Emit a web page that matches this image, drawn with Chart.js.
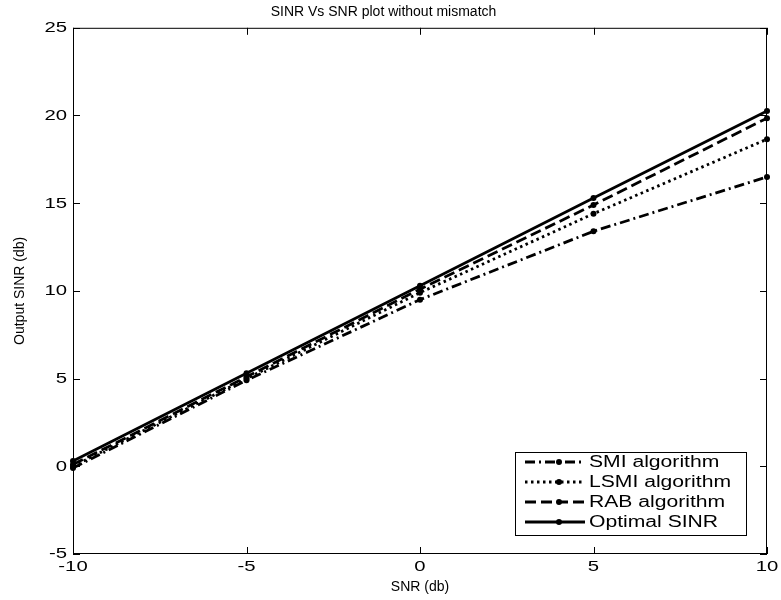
<!DOCTYPE html>
<html>
<head>
<meta charset="utf-8">
<script src="https://cdn.jsdelivr.net/npm/chart.js@4"></script>
<style>
  html, body { margin: 0; padding: 0; background: #fff; }
  #wrap { width: 781px; height: 600px; }
</style>
</head>
<body>
<div id="wrap"><canvas id="sinr"></canvas></div>
<script>
// data
var snr = [-10, -5, 0, 5, 10];
var smi = [-0.1, 4.9, 9.5, 13.4, 16.5];
var lsmi = [0.0, 5.0, 9.9, 14.4, 18.65];
var rab = [0.1, 5.1, 10.1, 14.9, 19.85];
var optimal = [0.3, 5.3, 10.3, 15.3, 20.25];
var xTicks = [-10, -5, 0, 5, 10];
var yTicks = [-5, 0, 5, 10, 15, 20, 25];

var FONT = 'Liberation Sans, Arial, sans-serif';

function pts(ys) {
    return snr.map(function(x, i) { return { x: x, y: ys[i] }; });
}

function series(label, ys, dash) {
    return {
        label: label,
        data: pts(ys),
        borderColor: '#000',
        backgroundColor: '#000',
        borderWidth: 2.8,
        borderDash: dash,
        pointRadius: 3,
        pointBorderWidth: 0,
        pointBackgroundColor: '#000',
        clip: false,
        tension: 0
    };
}

// the old figure text is a bit wide, so stretch it sideways
function wideText(ctx, txt, x, y, sx) {
    ctx.save();
    ctx.translate(x, y);
    ctx.scale(sx, 1);
    ctx.fillText(txt, 0, 0);
    ctx.restore();
}

// frame with inward ticks and the tick labels
var framePlugin = {
    id: 'frame',
    afterDatasetsDraw: function(chart) {
        var ctx = chart.ctx;
        var a = chart.chartArea;
        var xs = chart.scales.x, ys = chart.scales.y;
        ctx.save();
        ctx.strokeStyle = '#000';
        ctx.lineWidth = 1;
        ctx.setLineDash([]);
        ctx.strokeRect(a.left + 0.5, a.top + 0.5, a.right - a.left - 1, a.bottom - a.top - 1);
        ctx.beginPath();
        xTicks.forEach(function(v) {
            var px = Math.round(xs.getPixelForValue(v)) + 0.5;
            ctx.moveTo(px, a.bottom); ctx.lineTo(px, a.bottom - 7);
            ctx.moveTo(px, a.top); ctx.lineTo(px, a.top + 7);
        });
        yTicks.forEach(function(v) {
            var py = Math.round(ys.getPixelForValue(v)) + 0.5;
            ctx.moveTo(a.left, py); ctx.lineTo(a.left + 7, py);
            ctx.moveTo(a.right, py); ctx.lineTo(a.right - 7, py);
        });
        ctx.stroke();

        ctx.fillStyle = '#000';
        ctx.font = '14px ' + FONT;
        ctx.textBaseline = 'middle';
        ctx.textAlign = 'center';
        xTicks.forEach(function(v) {
            wideText(ctx, String(v), xs.getPixelForValue(v), a.bottom + 13, 1.45);
        });
        ctx.textAlign = 'right';
        yTicks.forEach(function(v) {
            wideText(ctx, String(v), a.left - 6, ys.getPixelForValue(v) + 0.5, 1.45);
        });
        ctx.restore();
    }
};

// legend box in the lower right corner
var legendPlugin = {
    id: 'boxLegend',
    afterDraw: function(chart) {
        var ctx = chart.ctx;
        var bx = 515, by = 452, bw = 231, bh = 83;
        ctx.save();
        ctx.fillStyle = '#fff';
        ctx.fillRect(bx, by, bw, bh);
        ctx.strokeStyle = '#000';
        ctx.lineWidth = 1;
        ctx.setLineDash([]);
        ctx.strokeRect(bx + 0.5, by + 0.5, bw, bh);
        ctx.font = '16px ' + FONT;
        ctx.textBaseline = 'middle';
        ctx.textAlign = 'left';
        chart.data.datasets.forEach(function(ds, i) {
            var y = 462 + i * 20;
            ctx.strokeStyle = '#000';
            ctx.lineWidth = ds.borderWidth;
            ctx.setLineDash(ds.borderDash || []);
            ctx.beginPath();
            ctx.moveTo(525, y);
            ctx.lineTo(585, y);
            ctx.stroke();
            ctx.setLineDash([]);
            ctx.fillStyle = '#000';
            ctx.beginPath();
            ctx.arc(559, y, 3, 0, Math.PI * 2);
            ctx.fill();
            wideText(ctx, ds.label, 589, y + 0.5, 1.32);
        });
        ctx.restore();
    }
};

const cx = document.getElementById('sinr').getContext('2d');

new Chart(cx, {
    type: 'line',
    data: {
        datasets: [
            series('SMI algorithm', smi, [10, 4, 2, 4]),
            series('LSMI algorithm', lsmi, [2.5, 3.5]),
            series('RAB algorithm', rab, [11, 5]),
            series('Optimal SINR', optimal, [])
        ]
    },
    options: {
        responsive: true,
        maintainAspectRatio: false,
        animation: false,
        layout: { padding: { top: 0, right: 14, bottom: 0, left: 0 } },
        plugins: {
            legend: { display: false },
            tooltip: { enabled: false },
            title: {
                display: true,
                text: 'SINR Vs SNR plot without mismatch',
                color: '#000',
                font: { family: FONT, size: 14, weight: 'normal' },
                padding: { top: 4, bottom: 7 }
            }
        },
        scales: {
            x: {
                type: 'linear',
                min: -10,
                max: 10,
                grid: { display: false, drawTicks: false },
                border: { display: false },
                afterFit: function(s) { s.height = 46; },
                afterBuildTicks: function(s) { s.ticks = xTicks.map(function(v) { return { value: v }; }); },
                ticks: { display: false },
                title: {
                    display: true,
                    text: 'SNR (db)',
                    color: '#000',
                    font: { family: FONT, size: 14 },
                    padding: { top: 0, bottom: 4 }
                }
            },
            y: {
                type: 'linear',
                min: -5,
                max: 25,
                grid: { display: false, drawTicks: false },
                border: { display: false },
                afterFit: function(s) { s.width = 73; },
                afterBuildTicks: function(s) { s.ticks = yTicks.map(function(v) { return { value: v }; }); },
                ticks: { display: false },
                title: {
                    display: true,
                    text: 'Output SINR (db)',
                    color: '#000',
                    font: { family: FONT, size: 14 },
                    padding: { top: 12, bottom: 0 }
                }
            }
        }
    },
    plugins: [framePlugin, legendPlugin]
});
</script>
</body>
</html>
